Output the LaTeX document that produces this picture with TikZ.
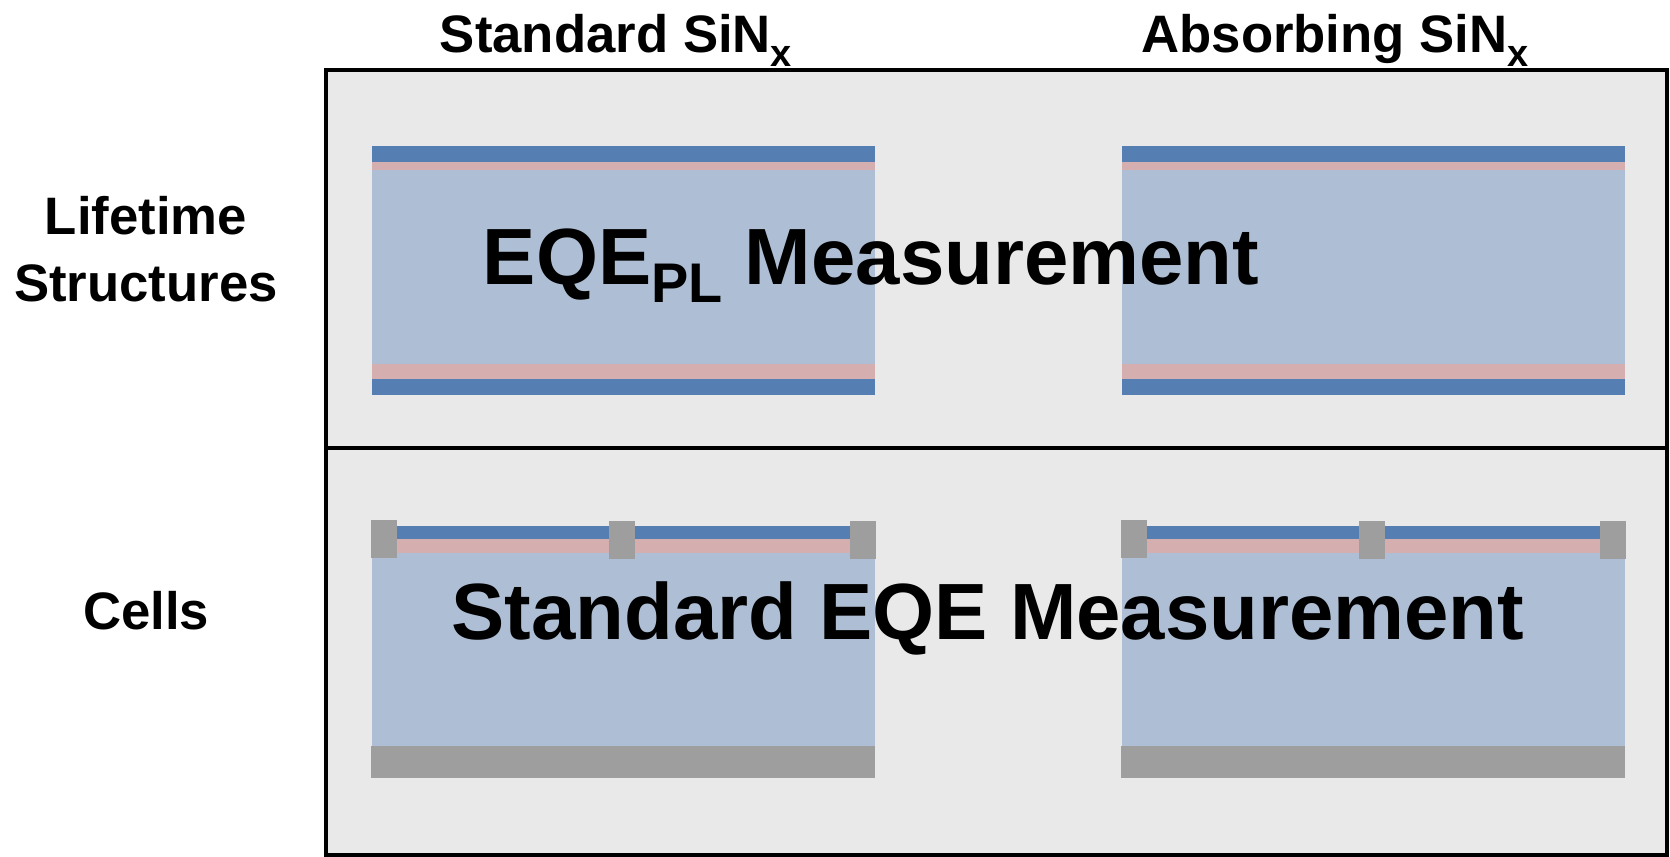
\documentclass[tikz,border=0pt]{standalone}
\usepackage{fontspec}
\setmainfont{Liberation Sans}

\definecolor{panelgray}{HTML}{E9E9E9}
\definecolor{sinblue}{HTML}{557EB2}
\definecolor{passpink}{HTML}{D5AFAF}
\definecolor{waferblue}{HTML}{AEBFD5}
\definecolor{metalgray}{HTML}{9E9E9E}

% lowered, smaller text for subscripts
\newcommand{\dropsub}[3]{\raisebox{-#1}{\fontsize{#2}{#2}\selectfont #3}}

\begin{document}
\begin{tikzpicture}[x=0.02cm, y=-0.02cm,
    panel/.style={draw=black, line width=2.4pt, fill=panelgray},
    label/.style={inner sep=0pt, anchor=base, font=\fontsize{30}{36}\selectfont\bfseries},
    bigtext/.style={inner sep=0pt, anchor=base, font=\fontsize{45.4}{54}\selectfont\bfseries}]

    \useasboundingbox (0,0) rectangle (1670,857);

    % Panels
    \draw[panel] (326,70) rectangle (1667,448);
    \draw[panel] (326,448) rectangle (1667,855);

    % Lifetime structures (symmetric stacks)
    \foreach \x in {372,1122} {
        \fill[waferblue] (\x,170) rectangle ({\x+503},364);
        \fill[passpink]  (\x,162) rectangle ({\x+503},170);
        \fill[passpink]  (\x,364) rectangle ({\x+503},379);
        \fill[sinblue]   (\x,146) rectangle ({\x+503},162);
        \fill[sinblue]   (\x,379) rectangle ({\x+503},395);
    }

    % Cells with front fingers and rear contact
    \foreach \x in {372,1122} {
        \fill[waferblue] (\x,553) rectangle ({\x+503},746);
        \fill[passpink]  (\x,539) rectangle ({\x+503},553);
        \fill[sinblue]   (\x,526) rectangle ({\x+503},539);
        \fill[metalgray] ({\x-1},746) rectangle ({\x+503},778);
        \fill[metalgray] ({\x-1},520) rectangle ({\x+25},558);
        \fill[metalgray] ({\x+237},521) rectangle ({\x+263},559);
        \fill[metalgray] ({\x+478},521) rectangle ({\x+504},559);
    }

    % Column and row labels
    \node[label] (stdsin) at (616,53) {Standard SiN\dropsub{7.9pt}{21.6pt}{x}};
    \node[label] (abssin) at (1335,53) {Absorbing SiN\dropsub{7.9pt}{21.6pt}{x}};
    \node[label] (lifetime) at (146,235) {Lifetime};
    \node[label] (structures) at (146,302) {Structures};
    \node[label] (cells) at (146,630) {Cells};

    % Measurement labels
    \node[bigtext] (eqepl) at (871,285) {EQE\dropsub{10.2pt}{31.8pt}{PL} Measurement};
    \node[bigtext] (eqestd) at (988,640) {Standard EQE Measurement};

\end{tikzpicture}
\end{document}
